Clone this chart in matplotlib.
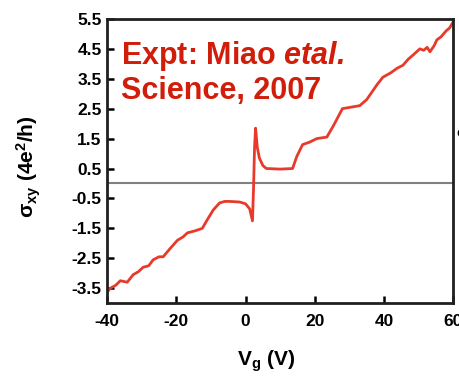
import matplotlib
matplotlib.use("Agg")
import matplotlib.pyplot as plt

plt.rcParams['font.family'] = ['Liberation Sans', 'DejaVu Sans']
plt.rcParams['axes.unicode_minus'] = False
plt.rcParams['mathtext.fontset'] = 'custom'
plt.rcParams['mathtext.rm'] = 'Liberation Sans:bold'
plt.rcParams['mathtext.bf'] = 'Liberation Sans:bold'
plt.rcParams['mathtext.it'] = 'Liberation Sans:italic:bold'
plt.rcParams['mathtext.bfit'] = 'Liberation Sans:italic:bold'

# Hall conductivity vs gate voltage
vg = [-40, -39.1, -37.5, -36.2, -34.2, -32.5, -31.0, -29.6, -28.0, -26.7, -25.0,
      -23.8, -22.0, -19.7, -18.0, -16.8, -14.5, -12.5, -11.0, -9.3, -7.5, -6.0,
      -4.6, -1.7, 0.0, 1.2, 2.0, 2.3, 2.6, 2.9, 3.4, 4.0, 5.0, 6.0, 10.0,
      13.6, 14.8, 16.5, 18.5, 20.6, 23.5, 25.5, 28.0, 30.5, 33.0, 35.0, 36.5,
      38.0, 39.7, 42.0, 43.8, 45.5, 47.0, 48.5, 50.4, 51.5, 52.5, 53.3, 54.5,
      55.3, 56.5, 58.0, 59.0, 60.0]
sxy = [-3.63, -3.5, -3.4, -3.25, -3.3, -3.05, -2.95, -2.8, -2.75, -2.55, -2.45,
       -2.45, -2.2, -1.9, -1.78, -1.65, -1.58, -1.5, -1.2, -0.88, -0.65, -0.6,
       -0.6, -0.62, -0.68, -0.85, -1.25, -0.2, 1.2, 1.85, 1.2, 0.85, 0.6,
       0.5, 0.48, 0.5, 0.9, 1.3, 1.38, 1.5, 1.55, 1.95, 2.5, 2.55, 2.6, 2.8,
       3.05, 3.3, 3.55, 3.7, 3.85, 3.95, 4.15, 4.3, 4.5, 4.45, 4.55, 4.4, 4.6,
       4.8, 4.9, 5.1, 5.2, 5.4]

yticks = [-3.5, -2.5, -1.5, -0.5, 0.5, 1.5, 2.5, 3.5, 4.5, 5.5]
xticks = [-40, -20, 0, 20, 40, 60]

fig = plt.figure(figsize=(4.6, 3.78), dpi=100)
ax = fig.add_axes([0.233, 0.198, 0.752, 0.752])

ax.axhline(0, color='#808080', lw=1.5, zorder=1)
ax.plot(vg, sxy, color='#e83a2a', lw=2, zorder=2)

ax.set_xlim(-40, 60)
ax.set_ylim(-4.0, 5.5)
ax.set_xticks(xticks)
ax.set_yticks(yticks)
ax.set_yticklabels([f"{t:.1f}" for t in yticks])
ax.tick_params(direction='in', length=5, width=1.8, labelsize=12.5, pad=4)
ax.tick_params(axis='x', pad=8)
for lab in ax.get_xticklabels() + ax.get_yticklabels():
    lab.set_fontweight('bold')
for s in ax.spines.values():
    s.set_linewidth(2)
    s.set_color('#202020')

ax.set_xlabel(r"$\mathrm{V_g}$ (V)", fontsize=15, fontweight='bold')
ax.xaxis.set_label_coords(0.46, -0.16)
ax.set_ylabel(r"$\mathrm{\sigma_{xy}}$ (4e$\mathrm{^2}$/h)", fontsize=15,
              fontweight='bold')
ax.yaxis.set_label_coords(-0.185, 0.48)

ax.text(0.04, 0.93, "Expt: Miao $\\mathbfit{etal.}$\nScience, 2007",
        transform=ax.transAxes, ha='left', va='top', fontsize=22,
        fontweight='bold', color='#d01e0a', linespacing=1.12)

fig.text(0.993, 0.648, "c", fontsize=11, fontweight='bold', color='black',
         ha='left', va='center')

fig.savefig("out.png", dpi=100)
